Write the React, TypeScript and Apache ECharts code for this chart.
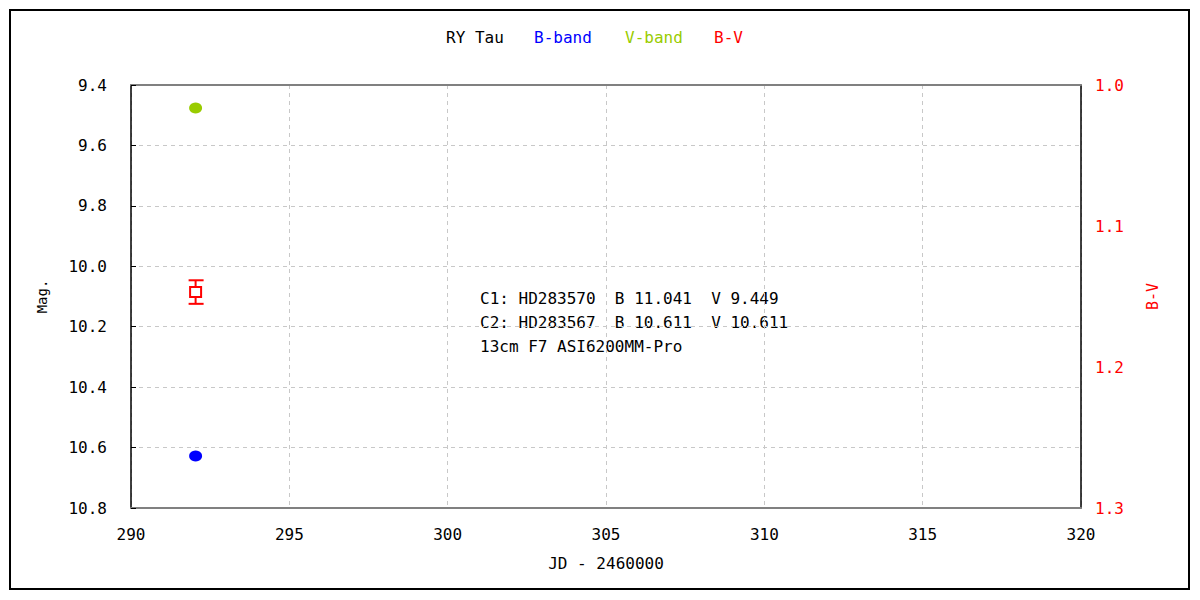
import React, { useEffect, useRef } from "react";
import * as echarts from "echarts";

const starName = "RY Tau";
const jdOffsetLabel = "JD - 2460000";
const bBandPoints: [number, number][] = [[292.04, 10.628]];
const vBandPoints: [number, number][] = [[292.04, 9.476]];
const bvPoints: [number, number, number, number][] = [[292.04, 1.1468, 1.1385, 1.1552]];
const notes = [
  "C1: HD283570  B 11.041  V 9.449",
  "C2: HD283567  B 10.611  V 10.611",
  "13cm F7 ASI6200MM-Pro",
];
const xRange = [290, 320];
const magRange = [9.4, 10.8];
const bvRange = [1.0, 1.3];

const FONT = "DejaVu Sans Mono";

export default function App() {
  const ref = useRef<HTMLDivElement>(null);
  useEffect(() => {
    if (!ref.current) return;
    const chart = echarts.init(ref.current, null, { renderer: "svg" });
    const grid = { left: 131, right: 119, top: 85, bottom: 92 };
    chart.setOption({
      animation: false,
      backgroundColor: "#ffffff",
      textStyle: { fontFamily: FONT },
      grid: { ...grid, containLabel: false },
      xAxis: [
        {
          type: "value",
          min: xRange[0],
          max: xRange[1],
          interval: 5,
          position: "bottom",
          name: jdOffsetLabel,
          nameLocation: "middle",
          nameGap: 47,
          nameTextStyle: { color: "#000", fontSize: 16, fontFamily: FONT },
          axisLine: { show: true, lineStyle: { color: "#808080", width: 2 } },
          axisTick: { show: false },
          axisLabel: { color: "#000", fontSize: 16, margin: 18, fontFamily: FONT },
          splitLine: { show: true, lineStyle: { color: "#c8c8c8", type: [4, 4], width: 1 } },
        },
        {
          type: "value",
          min: xRange[0],
          max: xRange[1],
          interval: 5,
          position: "top",
          axisLine: { show: true, lineStyle: { color: "#808080", width: 2 } },
          axisTick: { show: false },
          axisLabel: { show: false },
          splitLine: { show: false },
        },
      ],
      yAxis: [
        {
          type: "value",
          min: magRange[0],
          max: magRange[1],
          interval: 0.2,
          inverse: true,
          position: "left",
          name: "Mag.",
          nameLocation: "middle",
          nameGap: 82,
          nameRotate: 90,
          nameTextStyle: { color: "#000", fontSize: 14, fontFamily: FONT },
          axisLine: { show: true, lineStyle: { color: "#000", width: 1.5 } },
          axisTick: { show: true, inside: true, length: 5, lineStyle: { color: "#000" } },
          axisLabel: {
            color: "#000",
            fontSize: 16,
            margin: 24,
            fontFamily: FONT,
            formatter: (v: number) => v.toFixed(1),
          },
          splitLine: { show: true, lineStyle: { color: "#c8c8c8", type: [4, 4], width: 1 } },
        },
        {
          type: "value",
          min: bvRange[0],
          max: bvRange[1],
          interval: 0.1,
          inverse: true,
          position: "right",
          name: "B-V",
          nameLocation: "middle",
          nameGap: 64,
          nameRotate: 90,
          nameTextStyle: { color: "#ff0000", fontSize: 15, fontFamily: FONT },
          axisLine: { show: true, lineStyle: { color: "#000", width: 1.5 } },
          axisTick: { show: false },
          axisLabel: {
            color: "#ff0000",
            fontSize: 16,
            margin: 14,
            fontFamily: FONT,
            formatter: (v: number) => v.toFixed(1),
          },
          splitLine: { show: false },
        },
      ],
      series: [
        {
          name: "B-band",
          type: "scatter",
          xAxisIndex: 0,
          yAxisIndex: 0,
          symbol: "circle",
          symbolSize: [13, 11],
          itemStyle: { color: "#0000ff", opacity: 1 },
          data: bBandPoints,
        },
        {
          name: "V-band",
          type: "scatter",
          xAxisIndex: 0,
          yAxisIndex: 0,
          symbol: "circle",
          symbolSize: [13, 11],
          itemStyle: { color: "#99cc00", opacity: 1 },
          data: vBandPoints,
        },
        {
          name: "B-V",
          type: "custom",
          xAxisIndex: 0,
          yAxisIndex: 1,
          data: bvPoints,
          renderItem: (params: any, api: any) => {
            const x = api.value(0);
            const c = api.coord([x, api.value(1)]);
            const lo = api.coord([x, api.value(2)]);
            const hi = api.coord([x, api.value(3)]);
            const stroke = { stroke: "#ff0000", lineWidth: 2 };
            return {
              type: "group",
              children: [
                { type: "line", shape: { x1: c[0], y1: lo[1], x2: c[0], y2: hi[1] }, style: stroke },
                { type: "line", shape: { x1: c[0] - 7, y1: lo[1], x2: c[0] + 8, y2: lo[1] }, style: stroke },
                { type: "line", shape: { x1: c[0] - 7, y1: hi[1], x2: c[0] + 8, y2: hi[1] }, style: stroke },
                {
                  type: "rect",
                  shape: { x: c[0] - 5.5, y: c[1] - 5, width: 11, height: 10 },
                  style: { stroke: "#ff0000", lineWidth: 2, fill: "#ffffff" },
                },
              ],
            };
          },
        },
      ],
      graphic: [
        {
          type: "rect",
          shape: { x: 10, y: 10, width: 1179, height: 579 },
          style: { fill: "none", stroke: "#000", lineWidth: 2 },
          silent: true,
        },
        { type: "text", x: 446, y: 37, style: { text: starName, fill: "#000", font: `16px "${FONT}"`, textVerticalAlign: "middle" } },
        { type: "text", x: 534, y: 37, style: { text: "B-band", fill: "#0000ff", font: `16px "${FONT}"`, textVerticalAlign: "middle" } },
        { type: "text", x: 625, y: 37, style: { text: "V-band", fill: "#99cc00", font: `16px "${FONT}"`, textVerticalAlign: "middle" } },
        { type: "text", x: 714, y: 37, style: { text: "B-V", fill: "#ff0000", font: `16px "${FONT}"`, textVerticalAlign: "middle" } },
        ...notes.map((t, i) => ({
          type: "text",
          x: 480,
          y: 298 + i * 24,
          style: { text: t, fill: "#000", font: `16px "${FONT}"`, textVerticalAlign: "middle" },
        })),
      ],
    });
    return () => chart.dispose();
  }, []);
  return (
    <div
      ref={ref}
      style={{ position: "fixed", left: 0, top: 0, width: 1200, height: 600, background: "#fff" }}
    />
  );
}
